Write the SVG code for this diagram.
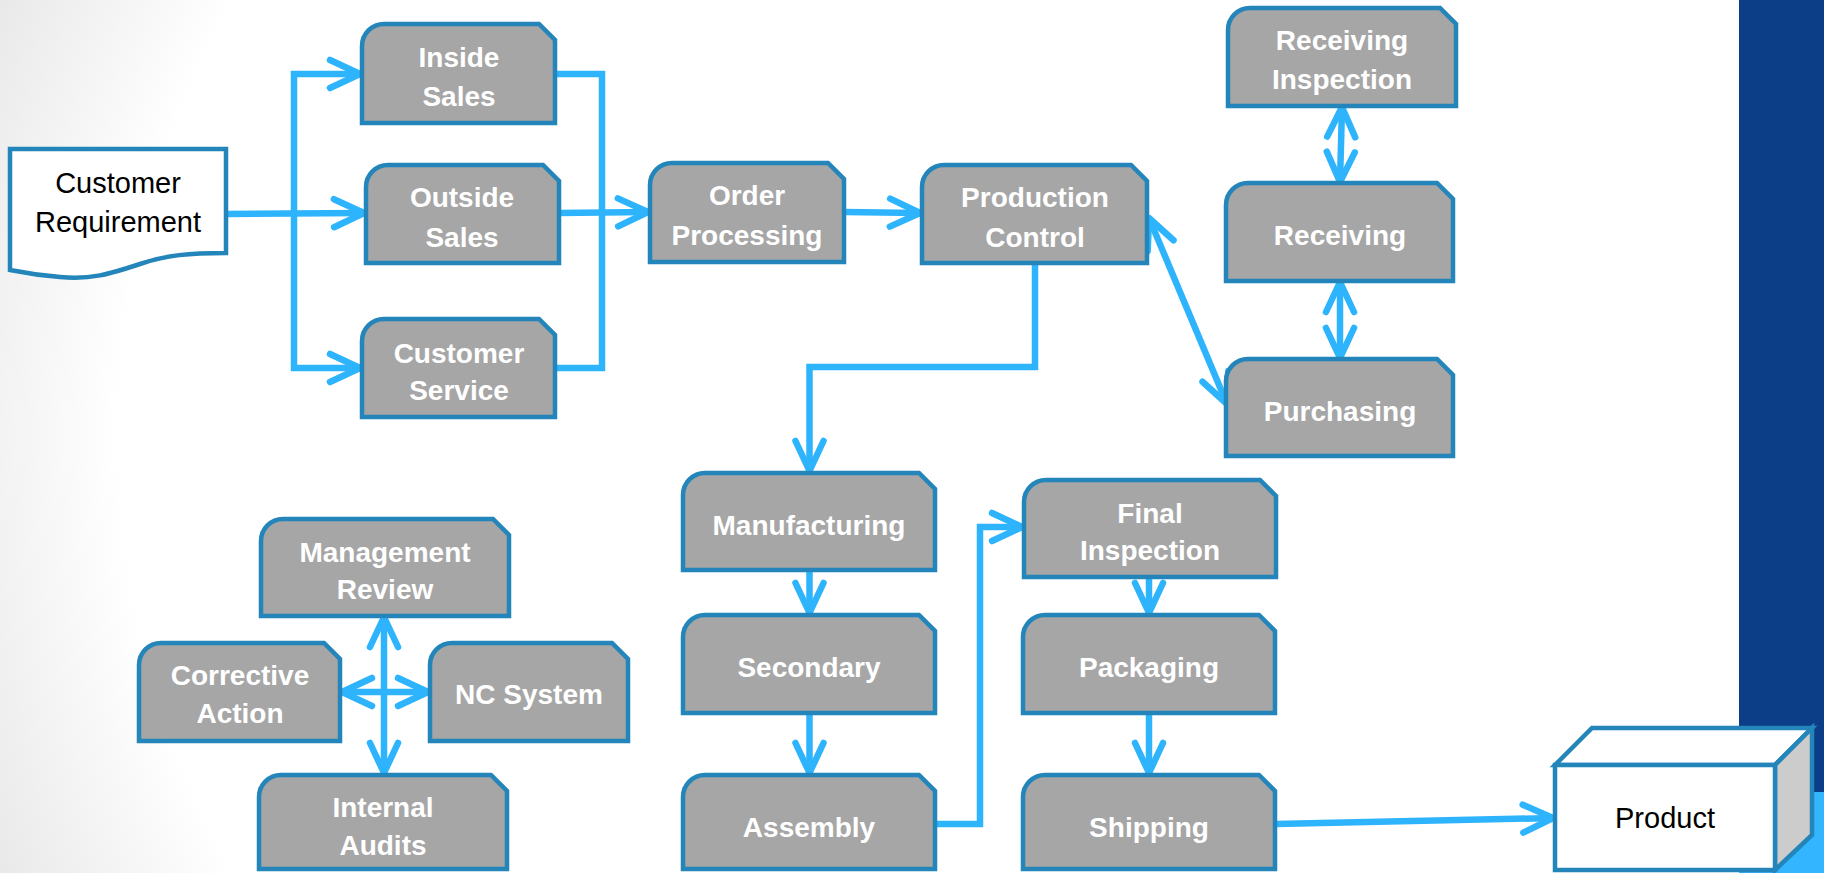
<svg xmlns="http://www.w3.org/2000/svg" width="1824" height="873" viewBox="0 0 1824 873">
<defs>
<radialGradient id="bg" cx="1000" cy="436" r="1100" gradientUnits="userSpaceOnUse">
<stop offset="0" stop-color="#ffffff"/>
<stop offset="0.8" stop-color="#ffffff"/>
<stop offset="1" stop-color="#e8e8e8"/>
</radialGradient>
<marker id="ah" markerUnits="userSpaceOnUse" markerWidth="50" markerHeight="44" viewBox="-42 -22 50 44" refX="0" refY="0" orient="auto-start-reverse" overflow="visible">
<path d="M -30,-14 L 0,0 L -30,14" fill="none" stroke="#2EB4FD" stroke-width="6.5" stroke-linecap="round" stroke-linejoin="round"/>
</marker>
<style>
.box{fill:#A6A6A6;stroke:#2385BA;stroke-width:4.5;stroke-linejoin:miter}
.lbl{font-family:"Liberation Sans",Arial,sans-serif;font-weight:bold;font-size:28px;fill:#ffffff;text-anchor:middle}
.dark{font-family:"Liberation Sans",Arial,sans-serif;font-size:29px;fill:#000000;text-anchor:middle}
.con{fill:none;stroke:#2EB4FD;stroke-width:6.5;stroke-linejoin:miter}
.arr{marker-end:url(#ah)}
.dbl{marker-start:url(#ah);marker-end:url(#ah)}
.wbox{fill:#ffffff;stroke:#2385BA;stroke-width:4.5;stroke-linejoin:miter}
</style>
</defs>
<rect x="0" y="0" width="1824" height="873" fill="url(#bg)"/>
<rect x="1739" y="0" width="85" height="792" fill="#0B3E87"/>
<rect x="1739" y="792" width="85" height="81" fill="#33B6FF"/>

<g id="connectors">
<path class="con arr" d="M 226,214 L 364,213"/>
<path class="con arr" d="M 294,214 L 294,74 L 360,74"/>
<path class="con arr" d="M 294,214 L 294,368 L 360,368"/>
<path class="con" d="M 555,74 L 602,74 L 602,368 L 555,368"/>
<path class="con arr" d="M 559,213 L 648,212"/>
<path class="con arr" d="M 844,212 L 920,213"/>
<path class="con arr" d="M 1035,263 L 1035,367 L 809.5,367 L 809.5,471"/>
<path class="con dbl" d="M 1149,218 L 1227,404"/>
<path class="con dbl" d="M 1342,107 L 1340,182"/>
<path class="con dbl" d="M 1340,282 L 1340,358"/>
<path class="con arr" d="M 809.5,570 L 809.5,613"/>
<path class="con arr" d="M 809.5,713 L 809.5,773"/>
<path class="con arr" d="M 935,824 L 980,824 L 980,527 L 1022,527"/>
<path class="con arr" d="M 1149,577 L 1149,613"/>
<path class="con arr" d="M 1149,713 L 1149,773"/>
<path class="con arr" d="M 1276,824 L 1553,818"/>
<path class="con dbl" d="M 384,617 L 384,773"/>
<path class="con dbl" d="M 342,692 L 428,692"/>
</g>

<g id="customer-requirement">
<path class="wbox" d="M 10,149 L 226,149 L 226,253 C 190,253 166,255 140,264 C 110,274 90,280 60,277 C 35,275 20,272 10,270 Z"/>
<text class="dark" x="118" y="193">Customer</text>
<text class="dark" x="118" y="232">Requirement</text>
</g>

<g id="inside-sales">
<path class="box" d="M 362,123 L 362,46 A 22 22 0 0 1 384,24 L 539,24 L 555,40 L 555,123 Z"/>
<text class="lbl" x="459" y="67">Inside</text>
<text class="lbl" x="459" y="106">Sales</text>
</g>
<g id="outside-sales">
<path class="box" d="M 366,263 L 366,187 A 22 22 0 0 1 388,165 L 543,165 L 559,181 L 559,263 Z"/>
<text class="lbl" x="462" y="207">Outside</text>
<text class="lbl" x="462" y="247">Sales</text>
</g>
<g id="customer-service">
<path class="box" d="M 362,417 L 362,341 A 22 22 0 0 1 384,319 L 539,319 L 555,335 L 555,417 Z"/>
<text class="lbl" x="459" y="363">Customer</text>
<text class="lbl" x="459" y="400">Service</text>
</g>
<g id="order-processing">
<path class="box" d="M 650,262 L 650,185 A 22 22 0 0 1 672,163 L 828,163 L 844,179 L 844,262 Z"/>
<text class="lbl" x="747" y="205">Order</text>
<text class="lbl" x="747" y="245">Processing</text>
</g>
<g id="production-control">
<path class="box" d="M 922,263 L 922,187 A 22 22 0 0 1 944,165 L 1131,165 L 1147,181 L 1147,263 Z"/>
<text class="lbl" x="1035" y="207">Production</text>
<text class="lbl" x="1035" y="247">Control</text>
</g>
<g id="receiving-inspection">
<path class="box" d="M 1228,106 L 1228,30 A 22 22 0 0 1 1250,8 L 1440,8 L 1456,24 L 1456,106 Z"/>
<text class="lbl" x="1342" y="50">Receiving</text>
<text class="lbl" x="1342" y="89">Inspection</text>
</g>
<g id="receiving">
<path class="box" d="M 1226,281 L 1226,205 A 22 22 0 0 1 1248,183 L 1437,183 L 1453,199 L 1453,281 Z"/>
<text class="lbl" x="1340" y="245">Receiving</text>
</g>
<g id="purchasing">
<path class="box" d="M 1226,456 L 1226,381 A 22 22 0 0 1 1248,359 L 1437,359 L 1453,375 L 1453,456 Z"/>
<text class="lbl" x="1340" y="421">Purchasing</text>
</g>
<g id="manufacturing">
<path class="box" d="M 683,570 L 683,495 A 22 22 0 0 1 705,473 L 919,473 L 935,489 L 935,570 Z"/>
<text class="lbl" x="809" y="535">Manufacturing</text>
</g>
<g id="secondary">
<path class="box" d="M 683,713 L 683,637 A 22 22 0 0 1 705,615 L 919,615 L 935,631 L 935,713 Z"/>
<text class="lbl" x="809" y="677">Secondary</text>
</g>
<g id="assembly">
<path class="box" d="M 683,869 L 683,797 A 22 22 0 0 1 705,775 L 919,775 L 935,791 L 935,869 Z"/>
<text class="lbl" x="809" y="837">Assembly</text>
</g>
<g id="final-inspection">
<path class="box" d="M 1024,577 L 1024,502 A 22 22 0 0 1 1046,480 L 1260,480 L 1276,496 L 1276,577 Z"/>
<text class="lbl" x="1150" y="523">Final</text>
<text class="lbl" x="1150" y="560">Inspection</text>
</g>
<g id="packaging">
<path class="box" d="M 1023,713 L 1023,637 A 22 22 0 0 1 1045,615 L 1259,615 L 1275,631 L 1275,713 Z"/>
<text class="lbl" x="1149" y="677">Packaging</text>
</g>
<g id="shipping">
<path class="box" d="M 1023,869 L 1023,797 A 22 22 0 0 1 1045,775 L 1259,775 L 1275,791 L 1275,869 Z"/>
<text class="lbl" x="1149" y="837">Shipping</text>
</g>
<g id="management-review">
<path class="box" d="M 261,616 L 261,541 A 22 22 0 0 1 283,519 L 493,519 L 509,535 L 509,616 Z"/>
<text class="lbl" x="385" y="562">Management</text>
<text class="lbl" x="385" y="599">Review</text>
</g>
<g id="corrective-action">
<path class="box" d="M 139,741 L 139,665 A 22 22 0 0 1 161,643 L 324,643 L 340,659 L 340,741 Z"/>
<text class="lbl" x="240" y="685">Corrective</text>
<text class="lbl" x="240" y="723">Action</text>
</g>
<g id="nc-system">
<path class="box" d="M 430,741 L 430,665 A 22 22 0 0 1 452,643 L 612,643 L 628,659 L 628,741 Z"/>
<text class="lbl" x="529" y="704">NC System</text>
</g>
<g id="internal-audits">
<path class="box" d="M 259,869 L 259,797 A 22 22 0 0 1 281,775 L 491,775 L 507,791 L 507,869 Z"/>
<text class="lbl" x="383" y="817">Internal</text>
<text class="lbl" x="383" y="855">Audits</text>
</g>
<g id="product">
<path class="wbox" d="M 1555,765 L 1592,728 L 1812,728 L 1775,765 Z"/>
<path class="wbox" style="fill:#CCCCCC" d="M 1775,765 L 1812,728 L 1812,835 L 1775,870 Z"/>
<rect class="wbox" x="1555" y="765" width="220" height="105"/>
<text class="dark" x="1665" y="828">Product</text>
</g>
</svg>
